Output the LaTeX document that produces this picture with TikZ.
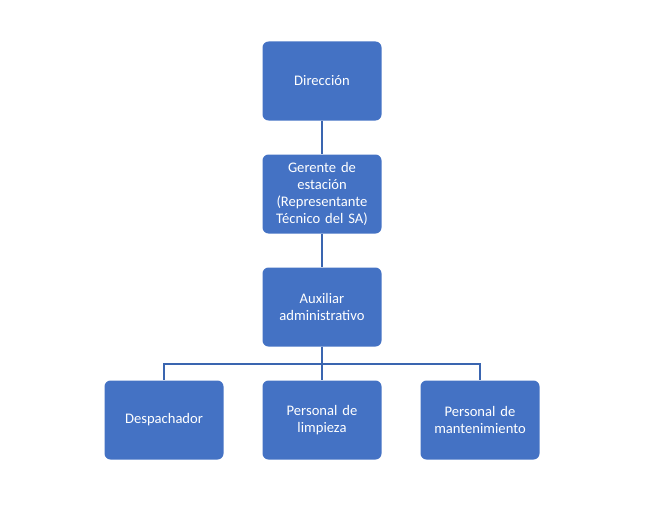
\documentclass[tikz,border=0pt]{standalone}
\usepackage{fontspec}
\setmainfont{Carlito}
\usepackage{tikz}
\definecolor{boxblue}{HTML}{4472C4}
\definecolor{lineblue}{HTML}{3A65B0}

\begin{document}
\begin{tikzpicture}[x=1pt,y=1pt,node distance=113pt,
  puesto/.style={fill=boxblue,text=white,rounded corners=6pt,minimum width=119pt,minimum height=79pt,
    text width=114pt,align=center,font=\fontsize{14.6}{16.8}\selectfont,inner sep=0pt},
  enlace/.style={lineblue,line width=1.6pt}]
\useasboundingbox (0,0) rectangle (661,-519);
\node [puesto] (d) at (322,-81) {Dirección};
\node [puesto,below of=d] (g) {Gerente de\\estación\\(Representante\\Técnico del SA)};
\node [puesto,below of=g] (a) {Auxiliar\\administrativo};
\node [puesto,below of=a] (l) {Personal de\\limpieza};
\node [puesto,left of=l,node distance=158pt] (des) {Despachador};
\node [puesto,right of=l,node distance=158pt] (m) {Personal de\\mantenimiento};
\draw [enlace] (d) -- (g);
\draw [enlace] (g) -- (a);
\draw [enlace] (a) -- (l);
\draw [enlace] (a.south) -- ++(0,-17.5) -| (des.north);
\draw [enlace] (a.south) -- ++(0,-17.5) -| (m.north);
\end{tikzpicture}
\end{document}
